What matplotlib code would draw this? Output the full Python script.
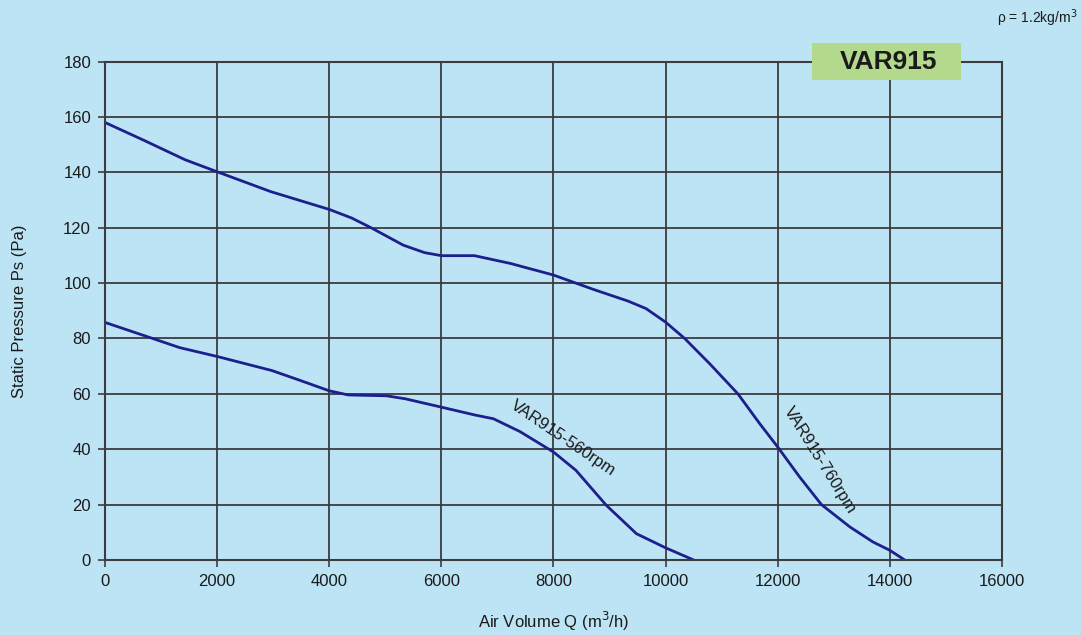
import matplotlib.pyplot as plt
from matplotlib.patches import Rectangle

plt.rcParams['font.family'] = ['Liberation Sans', 'DejaVu Sans']

q_760 = [0, 700, 1433, 2000, 2960, 4000, 4400, 4745, 5320, 5700, 6000, 6590,
         7230, 8000, 8700, 9330, 9650, 10000, 10340, 10790, 11290, 11680,
         12000, 12390, 12780, 13290, 13700, 14000, 14250]
ps_760 = [158, 151.5, 144.5, 140.2, 133, 126.6, 123.5, 120, 113.7, 111, 109.9, 109.9,
          107.1, 102.9, 97.8, 93.5, 90.8, 85.9, 80, 70.8, 60, 49.2,
          40.8, 30, 20, 11.9, 6.5, 3.5, 0.2]

q_560 = [0, 850, 1330, 2000, 2980, 3460, 4000, 4340, 5020, 5360, 6000, 6590,
         6930, 7400, 8000, 8400, 8940, 9480, 10000, 10490]
ps_560 = [85.8, 80, 76.7, 73.5, 68.4, 65, 61.1, 59.6, 59.3, 58.2, 55.2, 52.4,
          51, 46.4, 39, 32.4, 19.8, 9.5, 4.4, 0.1]

xticks = list(range(0, 16001, 2000))
yticks = list(range(0, 181, 20))

bg = '#bde4f5'
line_col = '#1c1f8c'
grid_col = '#3c3c3c'
txt_col = '#1a1a1a'

fig = plt.figure(figsize=(10.81, 6.35), dpi=100, facecolor=bg)
ax = fig.add_axes([0.0971, 0.1181, 0.8298, 0.7850])
ax.set_facecolor(bg)

ax.plot(q_760, ps_760, color=line_col, lw=2, solid_joinstyle='round')
ax.plot(q_560, ps_560, color=line_col, lw=2, solid_joinstyle='round')

ax.set_xlim(0, 16000)
ax.set_ylim(0, 180)
ax.set_xticks(xticks)
ax.set_yticks(yticks)
ax.grid(True, color=grid_col, lw=1.3)
for s in ax.spines.values():
    s.set_color(grid_col)
    s.set_linewidth(1.5)
ax.tick_params(direction='out', length=5, width=1.2, color=grid_col, pad=5,
               labelsize=12, labelcolor=txt_col)

ax.set_xlabel('Air Volume Q (m$^3$/h)', fontsize=12, color=txt_col, labelpad=15)
ax.set_ylabel('Static Pressure Ps (Pa)', fontsize=12, color=txt_col, labelpad=26)

ax.text(8170, 44, 'VAR915-560rpm', rotation=-34, fontsize=12, color=txt_col,
        ha='center', va='center')
ax.text(12760, 36, 'VAR915-760rpm', rotation=-58, fontsize=12, color=txt_col,
        ha='center', va='center')

# title box sitting on the top spine
fig.patches.append(Rectangle((812 / 1081, 1 - 80 / 635), 149 / 1081, 37 / 635,
                             transform=fig.transFigure, fc='#b3d98c', ec='none',
                             zorder=5))
fig.text(889 / 1081, 1 - 62 / 635, 'VAR915', fontsize=19, fontweight='bold',
         color=txt_col, ha='center', va='center', zorder=6)
fig.text(0.997, 0.972, 'ρ = 1.2kg/m$^3$', fontsize=10, color=txt_col,
         ha='right', va='center')

fig.savefig('out.png', dpi=100, facecolor=bg)
